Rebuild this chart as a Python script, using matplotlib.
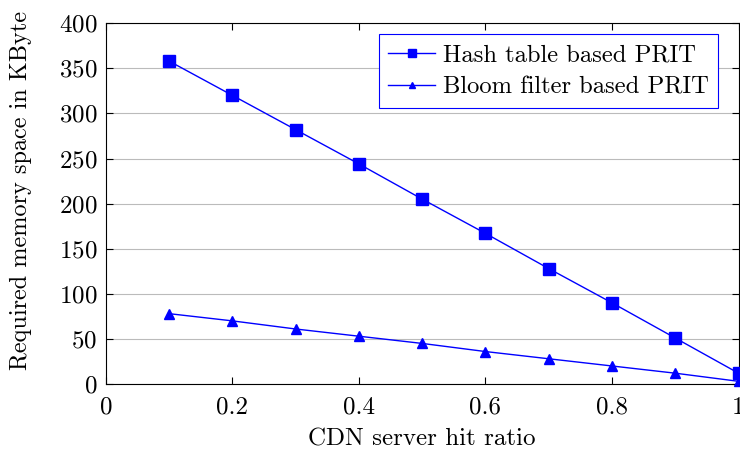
import matplotlib
matplotlib.use("Agg")
import matplotlib.pyplot as plt

plt.rcParams['font.family'] = 'serif'
plt.rcParams['font.serif'] = ['cmr10']
plt.rcParams['axes.formatter.use_mathtext'] = True
plt.rcParams['font.size'] = 18

# data
hit_ratio = [0.1, 0.2, 0.3, 0.4, 0.5, 0.6, 0.7, 0.8, 0.9, 1.0]
hash_table = [358, 320, 282, 244, 205, 167, 128, 90, 51, 12]
bloom_filter = [78, 70, 61, 53, 45, 36, 28, 20, 12, 3]

fig = plt.figure(figsize=(7.4, 4.55), dpi=100)
ax = fig.add_axes([0.143, 0.156, 0.855, 0.793])

ax.plot(hit_ratio, hash_table, color='blue', lw=1, marker='s', markersize=8,
        label='Hash table based PRIT', clip_on=False, zorder=3)
ax.plot(hit_ratio, bloom_filter, color='blue', lw=1, marker='^', markersize=7,
        label='Bloom filter based PRIT', clip_on=False, zorder=3)

ax.set_xlim(0, 1)
ax.set_ylim(0, 400)
ax.set_xticks([0, 0.2, 0.4, 0.6, 0.8, 1])
ax.set_xticklabels(['0', '0.2', '0.4', '0.6', '0.8', '1'])
ax.set_yticks(range(0, 401, 50))
ax.tick_params(direction='in', top=True, right=True, length=5, width=0.8,
               labelsize=18)
ax.tick_params(axis='x', pad=9)
ax.tick_params(axis='y', pad=6)
ax.yaxis.grid(True, color='#bbbbbb', lw=0.8)
ax.set_axisbelow(True)

ax.set_xlabel('CDN server hit ratio', labelpad=7)
ax.set_ylabel('Required memory space in KByte', fontsize=17.5)
ax.yaxis.set_label_coords(-0.116, 0.537)

leg = ax.legend(loc='upper right', fancybox=False, framealpha=1,
                edgecolor='blue', fontsize=17.7, borderaxespad=0,
                handlelength=1.9, handletextpad=0.3, borderpad=0.4,
                labelspacing=0.4, markerscale=0.7,
                bbox_to_anchor=(0.968, 0.9695))
leg.get_frame().set_linewidth(0.8)

fig.savefig('out.png', dpi=100)
